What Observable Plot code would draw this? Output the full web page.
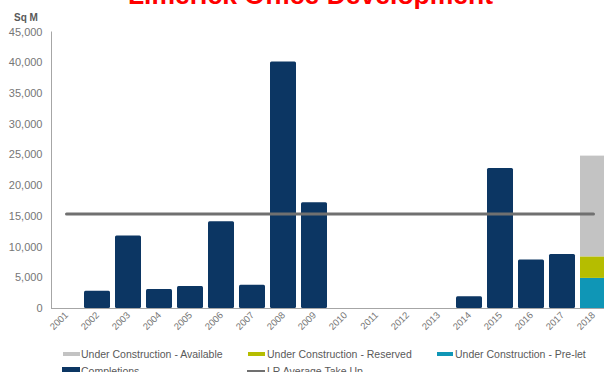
<!DOCTYPE html>
<html>
<head>
<meta charset="utf-8">
<script src="https://cdn.jsdelivr.net/npm/d3@7"></script>
<script src="https://cdn.jsdelivr.net/npm/@observablehq/plot@0.6"></script>
<style>
  html, body { margin: 0; padding: 0; width: 604px; height: 372px; overflow: hidden; background: #fff; }
  body { position: relative; font-family: "Liberation Sans", Arial, sans-serif; }
  #title { position: absolute; top: -18px; left: 310.5px; transform: translateX(-50%); white-space: nowrap;
           font-size: 26.5px; line-height: 26.5px; font-weight: bold; color: #ff0000; }
  #unit { position: absolute; top: 12px; left: 26px; transform: translateX(-50%); font-size: 10px; line-height: 12px;
          font-weight: bold; color: #595959; }
  #chart { position: absolute; top: 0; left: 0; width: 620px; }
  #chart svg { max-width: none !important; }
  .lg { position: absolute; font-size: 10.5px; line-height: 12px; color: #595959; white-space: nowrap; }
  .sw { position: absolute; }
</style>
</head>
<body>
<div id="chart"></div>
<div id="title"></div>
<div id="unit"></div>
<div id="legend"></div>
<script>
const titleText = "Limerick Office Development";
const unitLabel = "Sq M";
const years = ["2001","2002","2003","2004","2005","2006","2007","2008","2009","2010","2011","2012","2013","2014","2015","2016","2017","2018"];
const completions = [0, 2800, 11800, 3100, 3600, 14100, 3800, 40100, 17200, 0, 0, 0, 0, 1900, 22800, 7900, 8800, 0];
const ucYear = "2018";
const ucSeries = ["Under Construction - Pre-let", "Under Construction - Reserved", "Under Construction - Available"];
const ucValues = [4900, 3500, 16400];
const ucColors = ["#0f96b6", "#b5bd00", "#c3c3c3"];
const completionsLabel = "Completions";
const completionsColor = "#0c3663";
const avgLabel = "LR Average Take Up";
const avgTakeUp = 15400;
const avgColor = "#707070";
const yTicks = [0, 5000, 10000, 15000, 20000, 25000, 30000, 35000, 40000, 45000];

document.getElementById("title").textContent = titleText;
document.getElementById("unit").textContent = unitLabel;

const completionRows = years.map((y, i) => ({year: y, value: completions[i]}));
const ucRows = ucSeries.map((s, i) => ({year: ucYear, series: s, value: ucValues[i]}));
const avgRows = years.map(y => ({year: y, value: avgTakeUp}));

const plot = Plot.plot({
  width: 620,
  height: 340,
  marginLeft: 51,
  marginRight: 11,
  marginTop: 31.5,
  marginBottom: 32,
  style: {fontFamily: "'Liberation Sans', Arial, sans-serif", background: "transparent", maxWidth: "none"},
  x: {domain: years, paddingInner: 0.16, paddingOuter: 0.08},
  y: {domain: [0, 45000]},
  color: {domain: ucSeries, range: ucColors},
  marks: [
    Plot.barY(completionRows, {x: "year", y: "value", fill: completionsColor, rx: 1.5, filter: d => d.value > 0}),
    Plot.barY(ucRows, {x: "year", y: "value", fill: "series"}),
    Plot.ruleY([0], {stroke: "#a6a6a6"}),
    Plot.frame({anchor: "left", stroke: "#a6a6a6"}),
    Plot.line(avgRows, {x: "year", y: "value", stroke: avgColor, strokeWidth: 3}),
    Plot.axisY({ticks: yTicks, tickFormat: d3.format(","), tickSize: 0, tickPadding: 9, fontSize: 11, color: "#767676", label: null}),
    Plot.axisX({tickRotate: -45, tickSize: 0, tickPadding: 5, fontSize: 9.5, color: "#767676", label: null})
  ]
});
document.getElementById("chart").appendChild(plot);

// Legend (HTML)
const legend = document.getElementById("legend");
const items = [
  {label: ucSeries[2], color: ucColors[2], sx: 63, sw: 17, sy: 352, sh: 4, tx: 81, ty: 347.5},
  {label: ucSeries[1], color: ucColors[1], sx: 248, sw: 17, sy: 352, sh: 4, tx: 267, ty: 347.5},
  {label: ucSeries[0], color: ucColors[0], sx: 437, sw: 16, sy: 352, sh: 4, tx: 455, ty: 347.5},
  {label: completionsLabel, color: completionsColor, sx: 62, sw: 18, sy: 367, sh: 8, tx: 81, ty: 365},
  {label: avgLabel, color: avgColor, sx: 247, sw: 18, sy: 370, sh: 3, tx: 267, ty: 365}
];
for (const it of items) {
  const s = document.createElement("div");
  s.className = "sw";
  s.style.cssText = `left:${it.sx}px;top:${it.sy}px;width:${it.sw}px;height:${it.sh}px;background:${it.color}`;
  legend.appendChild(s);
  const t = document.createElement("div");
  t.className = "lg";
  t.style.left = it.tx + "px";
  t.style.top = it.ty + "px";
  t.textContent = it.label;
  legend.appendChild(t);
}
</script>
</body>
</html>
